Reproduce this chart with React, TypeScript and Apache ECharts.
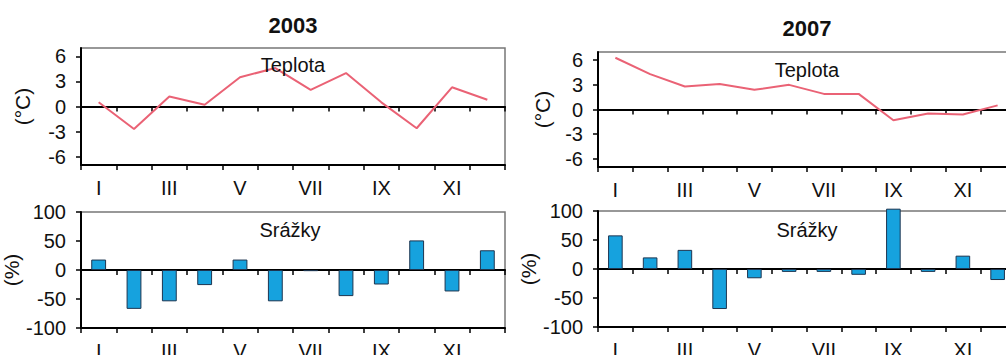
import React, { useEffect, useRef } from "react";
import * as echarts from "echarts";

const months = ["I", "II", "III", "IV", "V", "VI", "VII", "VIII", "IX", "X", "XI", "XII"];
const temp2003 = [0.5, -2.7, 1.2, 0.2, 3.5, 4.6, 2.0, 4.0, 0.5, -2.6, 2.3, 0.8];
const temp2007 = [6.3, 4.3, 2.8, 3.1, 2.4, 3.0, 1.9, 1.9, -1.3, -0.5, -0.6, 0.5];
const prec2003 = [18, -67, -54, -26, 18, -54, -2, -45, -25, 51, -37, 34];
const prec2007 = [58, 20, 33, -69, -16, -5, -5, -10, 104, -5, 23, -19];
const tempTicks = [-6, -3, 0, 3, 6];
const precTicks = [-100, -50, 0, 50, 100];
const years = ["2003", "2007"];

const FONT = '"Liberation Sans", Arial, sans-serif';

export default function App() {
  const ref = useRef<HTMLDivElement>(null);
  useEffect(() => {
    if (!ref.current) return;
    const chart = echarts.init(ref.current, null, { renderer: "svg" });

    const grids = [
      { left: 81, top: 48, width: 424, height: 117 },
      { left: 81, top: 212, width: 424, height: 116 },
      { left: 598, top: 52, width: 417, height: 115 },
      { left: 598, top: 211, width: 417, height: 116 },
    ];

    const xAxes: any[] = [];
    const yAxes: any[] = [];
    grids.forEach((_, g) => {
      xAxes.push({
        type: "category",
        gridIndex: g,
        data: months,
        position: "bottom",
        axisLine: { onZero: false, lineStyle: { color: "#000", width: 2 } },
        axisTick: { show: true, interval: 0, length: 5, lineStyle: { color: "#000", width: 1.5 } },
        axisLabel: { interval: 1, fontSize: 20, color: "#111", margin: 13, fontFamily: FONT },
        splitLine: { show: false },
      });
      xAxes.push({
        type: "category",
        gridIndex: g,
        data: months,
        position: "bottom",
        axisLine: { onZero: true, lineStyle: { color: "#000", width: 2 } },
        axisTick: { show: true, interval: 0, length: 5, lineStyle: { color: "#000", width: 1.5 } },
        axisLabel: { show: false },
        splitLine: { show: false },
      });
      const isTemp = g % 2 === 0;
      const ticks = isTemp ? tempTicks : precTicks;
      yAxes.push({
        type: "value",
        gridIndex: g,
        min: isTemp ? -7 : -100,
        max: isTemp ? 7 : 100,
        axisLine: { show: true, lineStyle: { color: "#000", width: 2 } },
        axisTick: { show: true, length: 5, customValues: ticks, lineStyle: { color: "#000", width: 1.5 } },
        axisLabel: { customValues: ticks, fontSize: 20, color: "#111", margin: 15, fontFamily: FONT },
        splitLine: { show: false },
        name: isTemp ? "(°C)" : "(%)",
        nameLocation: "middle",
        nameGap: g < 2 ? 48 : 45,
        nameTextStyle: { fontSize: 21, color: "#111", fontFamily: FONT },
      });
    });

    const lineStyle = { color: "#EA6275", width: 2 };
    const barStyle = { color: "#16A2DE", borderColor: "#1d3550", borderWidth: 1 };

    const series: any[] = [
      { type: "line", xAxisIndex: 0, yAxisIndex: 0, data: temp2003, symbol: "none", lineStyle, itemStyle: { color: lineStyle.color } },
      { type: "bar", xAxisIndex: 2, yAxisIndex: 1, data: prec2003, barWidth: "42%", itemStyle: barStyle, clip: false },
      { type: "line", xAxisIndex: 4, yAxisIndex: 2, data: temp2007, symbol: "none", lineStyle, itemStyle: { color: lineStyle.color } },
      { type: "bar", xAxisIndex: 6, yAxisIndex: 3, data: prec2007, barWidth: "42%", itemStyle: barStyle, clip: false },
    ];

    const txt = (x: number, y: number, text: string, size: number, bold = false) => ({
      type: "text",
      x,
      y,
      z: 100,
      style: {
        text,
        fontSize: size,
        fontWeight: bold ? "bold" : "normal",
        fontFamily: FONT,
        fill: "#111",
        align: "center",
        verticalAlign: "middle",
      },
    });

    chart.setOption({
      animation: false,
      backgroundColor: "#fff",
      grid: grids.map((g) => ({
        ...g,
        show: true,
        borderColor: "#777",
        borderWidth: 1.5,
        containLabel: false,
        outerBoundsMode: "none",
      })),
      xAxis: xAxes,
      yAxis: yAxes,
      series,
      graphic: [
        txt(293, 25, years[0], 22, true),
        txt(807, 28, years[1], 22, true),
        txt(293, 65, "Teplota", 20),
        txt(290, 230, "Srážky", 20),
        txt(807, 70, "Teplota", 20),
        txt(807, 230, "Srážky", 20),
      ],
    });
    return () => chart.dispose();
  }, []);
  return (
    <div
      ref={ref}
      style={{ position: "fixed", left: 0, top: 0, width: 1006, height: 355, background: "#fff" }}
    />
  );
}
